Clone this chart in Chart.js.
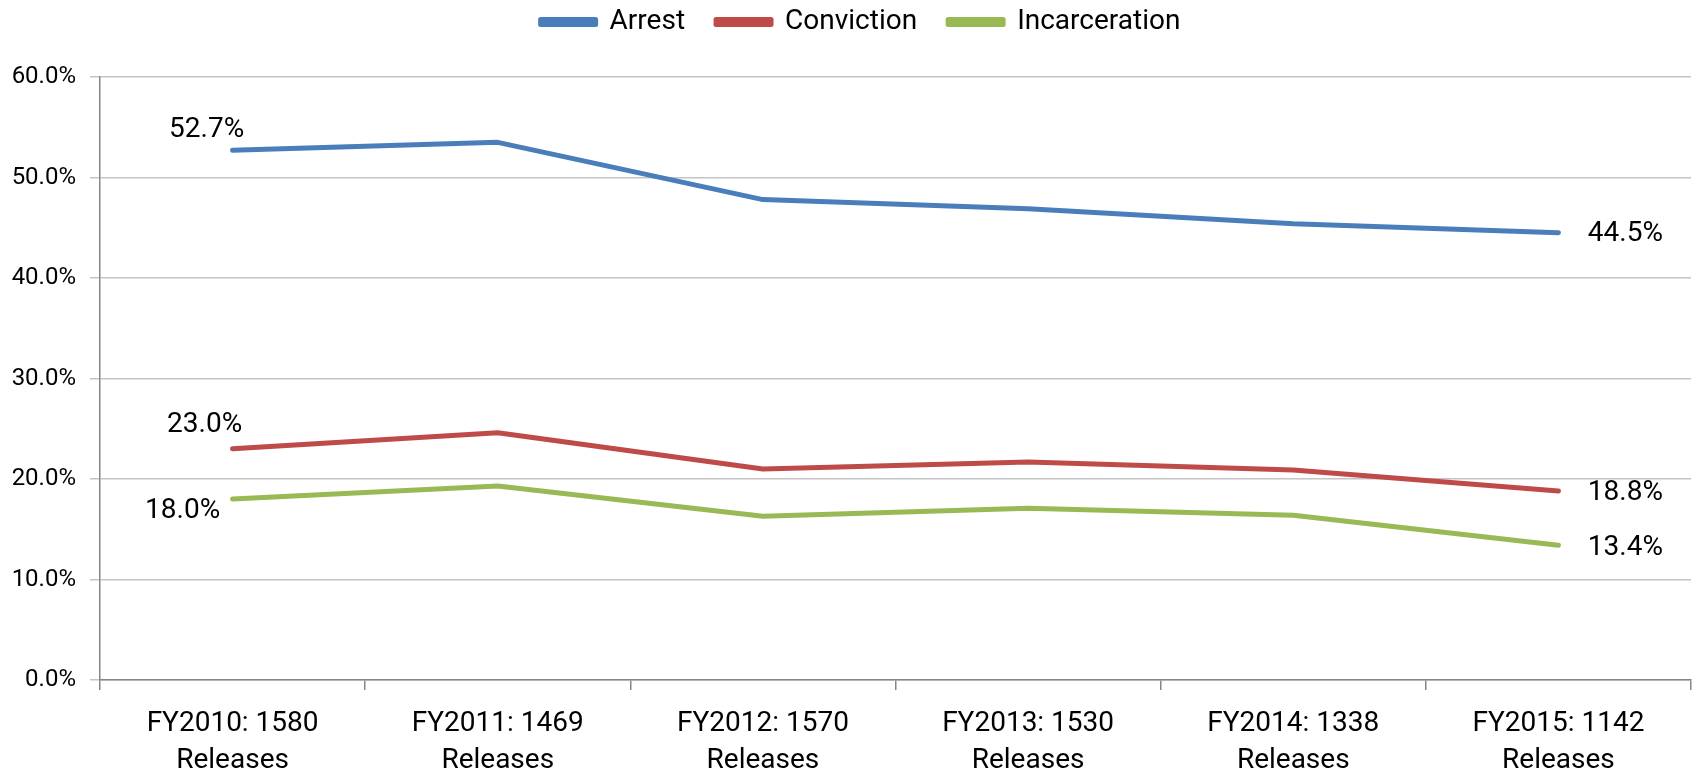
<!DOCTYPE html>
<html>
<head>
<meta charset="utf-8">
<script src="https://cdn.jsdelivr.net/npm/chart.js@4/dist/chart.umd.min.js"></script>
<style>
  html, body { margin: 0; padding: 0; background: #ffffff; }
  #wrap { width: 1696px; height: 770px; }
</style>
</head>
<body>
<div id="wrap"><canvas id="c" width="1696" height="770"></canvas></div>
<script>
// ---- data ----
const categories = [
  ['FY2010: 1580', 'Releases'],
  ['FY2011: 1469', 'Releases'],
  ['FY2012: 1570', 'Releases'],
  ['FY2013: 1530', 'Releases'],
  ['FY2014: 1338', 'Releases'],
  ['FY2015: 1142', 'Releases']
];
const seriesNames = ['Arrest', 'Conviction', 'Incarceration'];
const arrest = [52.7, 53.5, 47.8, 46.9, 45.4, 44.5];
const conviction = [23.0, 24.6, 21.0, 21.7, 20.9, 18.8];
const incarceration = [18.0, 19.3, 16.3, 17.1, 16.4, 13.4];
const yTicks = [0, 10, 20, 30, 40, 50, 60];

// ---- styles ----
const colors = ['#4a7ebb', '#be4b48', '#98b954'];
const fam = "Roboto, 'Liberation Sans', sans-serif";
// label offsets (px) for first / last point labels of each series
const labelOffsets = [
  { first: [-26, -20], last: [67, 1] },
  { first: [-28, -24], last: [67, 2] },
  { first: [-50, 12], last: [67, 3] }
];

const endLabels = {
  id: 'endLabels',
  afterLayout(chart) {
    // nudge the centred legend slightly right, as in the original
    if (chart.legend) chart.legend.left += 30;
  },
  afterDatasetsDraw(chart) {
    const ctx = chart.ctx;
    ctx.save();
    ctx.font = '28px ' + fam;
    ctx.fillStyle = '#000000';
    ctx.textAlign = 'center';
    ctx.textBaseline = 'middle';
    chart.data.datasets.forEach((ds, i) => {
      const pts = chart.getDatasetMeta(i).data;
      const f = pts[0], l = pts[pts.length - 1];
      const off = labelOffsets[i];
      ctx.fillText(ds.data[0].toFixed(1) + '%', f.x + off.first[0], f.y + off.first[1]);
      ctx.fillText(ds.data[ds.data.length - 1].toFixed(1) + '%', l.x + off.last[0], l.y + off.last[1]);
    });
    ctx.restore();
  }
};

const seriesData = [arrest, conviction, incarceration];
new Chart(document.getElementById('c'), {
  type: 'line',
  data: {
    labels: categories,
    datasets: seriesNames.map((n, i) => ({
      label: n,
      data: seriesData[i],
      borderColor: colors[i],
      backgroundColor: colors[i],
      borderWidth: 5,
      borderCapStyle: 'round',
      borderJoinStyle: 'round',
      pointRadius: 0,
      pointHoverRadius: 0,
      tension: 0,
      fill: false
    }))
  },
  options: {
    responsive: false,
    animation: false,
    devicePixelRatio: 1,
    layout: { padding: { left: 0, right: 5, top: -23, bottom: 0 } },
    plugins: {
      legend: {
        position: 'top',
        align: 'center',
        labels: {
          boxWidth: 55,
          boxHeight: 5,
          padding: 31,
          color: '#000000',
          font: { family: fam, size: 28 }
        }
      },
      title: {
        display: true,
        text: '',
        position: 'top',
        weight: 500,
        font: { size: 10, lineHeight: 1.2 },
        padding: { top: 19, bottom: 0 }
      },
      tooltip: { enabled: false }
    },
    scales: {
      x: {
        type: 'category',
        offset: true,
        grid: { offset: true, drawOnChartArea: false, drawTicks: true, tickLength: 10, color: '#868686', lineWidth: 1.5 },
        border: { color: '#868686', width: 1.5 },
        ticks: {
          color: '#000000',
          font: { family: fam, size: 28, lineHeight: 1.32 },
          padding: 16,
          maxRotation: 0,
          autoSkip: false
        },
        afterFit(s) { s.height = 90; }
      },
      y: {
        min: 0,
        max: 60,
        afterBuildTicks(s) { s.ticks = yTicks.map(v => ({ value: v })); },
        grid: { color: '#c4c4c4', lineWidth: 1.5, tickLength: 10 },
        border: { color: '#868686', width: 1.5 },
        ticks: {
          color: '#000000',
          font: { family: fam, size: 24 },
          padding: 14,
          callback: v => v.toFixed(1) + '%'
        },
        afterFit(s) { s.width = 100; }
      }
    }
  },
  plugins: [endLabels]
});
</script>
</body>
</html>
